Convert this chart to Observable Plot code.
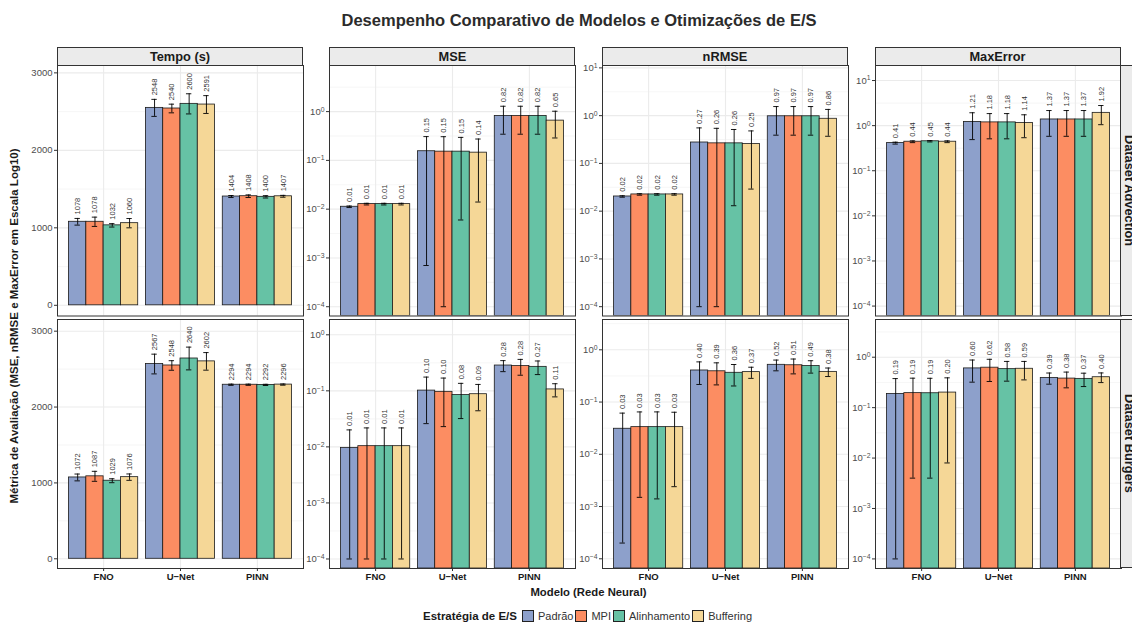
<!DOCTYPE html>
<html><head><meta charset="utf-8">
<script src="https://cdn.jsdelivr.net/npm/d3@7"></script>
<script src="https://cdn.jsdelivr.net/npm/@observablehq/plot@0.6"></script>
<style>
body{margin:0;background:#fff;}
#chart{position:relative;width:1132px;height:623px;overflow:hidden;font-family:"Liberation Sans",Arial,sans-serif;background:#fff;}
#chart .abs{position:absolute;box-sizing:border-box;}
#chart svg{position:absolute;overflow:visible;}
.strip{background:#EBEBEB;border:1px solid #333;color:#1A1A1A;font-weight:bold;font-size:12.8px;display:flex;align-items:center;justify-content:center;}
.rstrip{writing-mode:vertical-rl;}
.key{display:inline-block;width:12px;height:12px;border:1px solid #222;box-sizing:border-box;margin:0 4px 0 2px;vertical-align:-2px;}
</style></head><body><div id="chart"></div>
<script>
// ---------- data ----------
const models = ["FNO", "U−Net", "PINN"];
const strategies = ["Padrão", "MPI", "Alinhamento", "Buffering"];
const colors = ["#8DA0CB", "#FC8D62", "#66C2A5", "#F5D797"];
const metrics = ["Tempo (s)", "MSE", "nRMSE", "MaxError"];
const datasets = ["Dataset Advection", "Dataset Burgers"];

// values ordered FNO(Padrão, MPI, Alinhamento, Buffering), U-Net(...), PINN(...)
const tempoAdvMean = [1078, 1078, 1032, 1060, 2548, 2540, 2600, 2591, 1404, 1408, 1400, 1407];
const tempoAdvSd   = [43, 60, 22, 60, 110, 56, 130, 115, 13, 17, 15, 12];
const mseAdvMean   = [0.0112, 0.0127, 0.0127, 0.0127, 0.154, 0.151, 0.151, 0.144, 0.816, 0.816, 0.816, 0.653];
const mseAdvSd     = [0.0004, 0.0005, 0.0005, 0.0005, 0.1533, 0.155, 0.145, 0.13, 0.472, 0.472, 0.472, 0.365];
const nrmseAdvMean = [0.0203, 0.0224, 0.0224, 0.0224, 0.274, 0.263, 0.263, 0.254, 0.97, 0.97, 0.97, 0.86];
const nrmseAdvSd   = [0.0007, 0.0008, 0.0008, 0.0008, 0.28, 0.28, 0.25, 0.225, 0.58, 0.58, 0.58, 0.49];
const maxErrAdvMean = [0.41, 0.44, 0.45, 0.44, 1.21, 1.18, 1.18, 1.14, 1.37, 1.37, 1.37, 1.92];
const maxErrAdvSd   = [0.02, 0.02, 0.015, 0.02, 0.72, 0.67, 0.67, 0.6, 0.79, 0.79, 0.79, 0.87];

const tempoBurMean = [1072, 1087, 1029, 1076, 2567, 2548, 2640, 2602, 2294, 2294, 2292, 2296];
const tempoBurSd   = [45, 66, 26, 42, 130, 63, 150, 116, 8, 8, 8, 8];
const mseBurMean   = [0.0096, 0.0103, 0.0103, 0.0103, 0.101, 0.096, 0.084, 0.0871, 0.283, 0.277, 0.268, 0.106];
const mseBurSd     = [0.0105, 0.0115, 0.0115, 0.0115, 0.075, 0.073, 0.052, 0.043, 0.063, 0.087, 0.073, 0.028];
const nrmseBurMean = [0.0308, 0.0331, 0.0331, 0.0331, 0.402, 0.388, 0.363, 0.374, 0.516, 0.506, 0.488, 0.378];
const nrmseBurSd   = [0.0306, 0.0316, 0.0317, 0.0307, 0.185, 0.175, 0.16, 0.09, 0.12, 0.16, 0.13, 0.07];
const maxErrBurMean = [0.187, 0.194, 0.193, 0.199, 0.60, 0.62, 0.58, 0.59, 0.389, 0.377, 0.372, 0.401];
const maxErrBurSd   = [0.19, 0.19, 0.189, 0.191, 0.28, 0.29, 0.245, 0.235, 0.097, 0.13, 0.11, 0.087];

// ---------- layout ----------
const series = [
  [[tempoAdvMean, tempoAdvSd], [mseAdvMean, mseAdvSd], [nrmseAdvMean, nrmseAdvSd], [maxErrAdvMean, maxErrAdvSd]],
  [[tempoBurMean, tempoBurSd], [mseBurMean, mseBurSd], [nrmseBurMean, nrmseBurSd], [maxErrBurMean, maxErrBurSd]]
];
// y limits (linear for Tempo, log10 exponents for the rest)
const yLimits = [
  [[-138, 3095], [-4.19, 0.945], [-4.195, 1.05], [-4.22, 1.333]],
  [[-128, 3154], [-4.17, 0.273], [-4.186, 0.58], [-4.19, 0.748]]
];
const colLeft = [57, 329.4, 602, 874.5];
const panelW = 246;
const rowTop = [65, 319];
const rowH = [250.5, 249];

const chart = document.getElementById("chart");
function addDiv(cls, style, html) {
  const d = document.createElement("div");
  d.className = "abs " + (cls || "");
  Object.assign(d.style, style);
  d.innerHTML = html;
  chart.appendChild(d);
  return d;
}
const supMap = e => String(e).replace("-", "−");

function makePanel(r, c) {
  const isLog = c > 0;
  const [mean, sd] = series[r][c];
  const lim = yLimits[r][c];
  const dom = isLog ? lim.map(e => Math.pow(10, e)) : lim;
  const base = isLog ? dom[0] : 0;
  const ML = 34, MB = r === 1 ? 20 : 0;
  const rows = mean.map((m, i) => {
    const mi = Math.floor(i / 4), si = i % 4;
    const lo0 = m - sd[i];
    return {
      model: models[mi], strategy: strategies[si],
      xi: mi + 1 + (si - 1.5) * 0.225,
      mean: m,
      lo: isLog ? Math.max(lo0, 1e-4) : lo0,
      hi: m + sd[i],
      label: isLog ? m.toFixed(2) : String(Math.round(m))
    };
  });
  const inDom = v => v >= dom[0] && v <= dom[1];
  let major, minor;
  if (isLog) {
    major = d3.range(-4, 2).map(e => Math.pow(10, e)).filter(inDom);
    minor = d3.range(-5, 2).map(e => Math.pow(10, e + 0.5)).filter(inDom);
  } else {
    major = [0, 1000, 2000, 3000].filter(inDom);
    minor = [500, 1500, 2500].filter(inDom);
  }
  const marks = [
    Plot.ruleY(minor, {stroke: "#F0F0F0", strokeWidth: 0.6}),
    Plot.ruleY(major, {stroke: "#EBEBEB", strokeWidth: 1.1}),
    Plot.ruleX([1, 2, 3], {stroke: "#EBEBEB", strokeWidth: 1.1}),
    Plot.rect(rows, {x1: d => d.xi - 0.1125, x2: d => d.xi + 0.1125, y1: base, y2: "mean",
      fill: "strategy", stroke: "#1A1A1A", strokeWidth: 0.8, clip: true}),
    Plot.ruleX(rows, {x: "xi", y1: "lo", y2: "hi", stroke: "#000", strokeWidth: 0.9, clip: true}),
    Plot.ruleY(rows, {y: "hi", x1: d => d.xi - 0.035, x2: d => d.xi + 0.035, stroke: "#000", strokeWidth: 0.9}),
    Plot.ruleY(rows, {y: "lo", x1: d => d.xi - 0.035, x2: d => d.xi + 0.035, stroke: "#000", strokeWidth: 0.9, clip: true}),
    Plot.text(rows, {x: "xi", y: "hi", text: "label", rotate: -90, textAnchor: "start", dy: -4,
      fontSize: 7.5, fill: "#333"}),
    Plot.frame({stroke: "#333", strokeWidth: 1}),
    Plot.axisY(major, {tickSize: 3, tickPadding: 2, fontSize: 9.5, fill: "#4D4D4D", stroke: "#333", label: null,
      tickFormat: d => isLog ? "10^" + Math.round(Math.log10(d)) : String(d)})
  ];
  if (r === 1) {
    marks.push(Plot.axisX([1, 2, 3], {tickSize: 3, tickPadding: 2, fontSize: 9.5, fontWeight: "bold",
      fill: "#1A1A1A", stroke: "#333", label: null, tickFormat: i => models[i - 1]}));
  }
  const svg = Plot.plot({
    width: ML + panelW, height: rowH[r] + MB,
    marginLeft: ML, marginRight: 0, marginTop: 0, marginBottom: MB,
    style: {background: "transparent", fontFamily: "Liberation Sans, Arial, sans-serif"},
    x: {type: "linear", domain: [0.4, 3.6], axis: null},
    y: {type: isLog ? "log" : "linear", domain: dom, axis: null},
    color: {domain: strategies, range: colors},
    marks
  });
  // superscript exponents for log tick labels
  d3.select(svg).selectAll("text").each(function () {
    const t = this.textContent;
    const m = /^10\^(-?\d+)$/.exec(t);
    if (m) {
      const sel = d3.select(this);
      sel.text("");
      sel.append("tspan").text("10");
      sel.append("tspan").attr("dy", "-0.45em").attr("font-size", "0.72em").text(supMap(m[1]));
    }
  });
  svg.style.left = (colLeft[c] - ML) + "px";
  svg.style.top = rowTop[r] + "px";
  chart.appendChild(svg);
}

for (let r = 0; r < 2; r++) for (let c = 0; c < 4; c++) makePanel(r, c);

// column strips
metrics.forEach((m, c) => addDiv("strip", {left: colLeft[c] + "px", top: "47px", width: panelW + "px", height: "19px"}, m));
// row strips
datasets.forEach((d, r) => addDiv("strip rstrip", {left: "1120px", top: rowTop[r] + "px", width: "19px", height: rowH[r] + "px"}, d));

// title
addDiv("", {left: "0px", width: "1158px", top: "11px", textAlign: "center", fontWeight: "bold", fontSize: "16.5px", color: "#2B2B2B"},
  "Desempenho Comparativo de Modelos e Otimizações de E/S");
// x title
addDiv("", {left: "0px", width: "1177px", top: "586px", textAlign: "center", fontWeight: "bold", fontSize: "11.3px", color: "#1A1A1A"},
  "Modelo (Rede Neural)");
// y title
addDiv("", {left: "14px", top: "326px", transform: "translate(-50%,-50%) rotate(-90deg)", whiteSpace: "nowrap",
  fontWeight: "bold", fontSize: "11.5px", color: "#1A1A1A"},
  "Métrica de Avaliação (MSE, nRMSE e MaxError em Escala Log10)");
// legend
const leg = addDiv("", {left: "423px", top: "610px", whiteSpace: "nowrap", fontSize: "11px", color: "#333", lineHeight: "13px"},
  "<b style='color:#1A1A1A;font-size:11.5px;margin-right:3px'>Estratégia de E/S</b>" +
  strategies.map((s, i) => `<span class="key" style="background:${colors[i]}"></span>${s}`).join(""));
</script></body></html>
